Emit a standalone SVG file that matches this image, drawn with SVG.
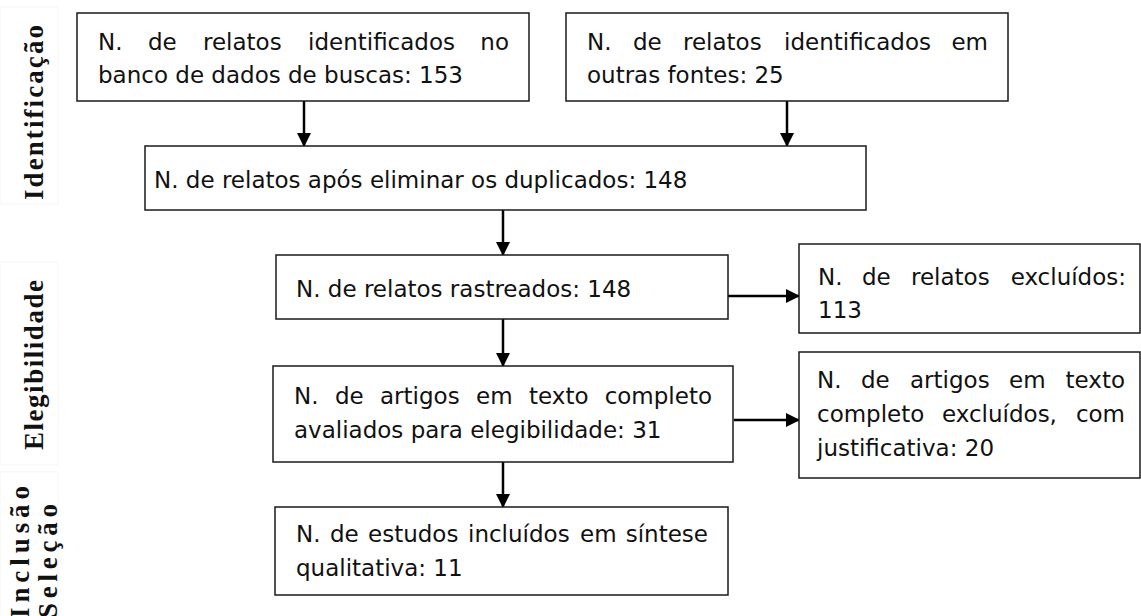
<svg xmlns="http://www.w3.org/2000/svg" width="1141" height="616" viewBox="0 0 1141 616">
<defs>
<marker id="ah" markerUnits="userSpaceOnUse" markerWidth="14" markerHeight="14" refX="13" refY="7" orient="auto">
<path d="M0,0 L14,7 L0,14 Z" fill="#000"/>
</marker>
<style>
.box{fill:#fff;stroke:#1a1a1a;stroke-width:1.5}
.t{font-family:"DejaVu Sans","Liberation Sans",sans-serif;font-size:23px;fill:#111}
.lab{font-family:"Liberation Serif","DejaVu Serif",serif;font-weight:bold;font-size:27px;fill:#111}
.band{fill:none;stroke:#f5f5f5;stroke-width:1}
.c{fill:none;stroke:#000;stroke-width:2.5;marker-end:url(#ah)}
</style>
</defs>
<rect width="1141" height="616" fill="#fff"/>
<g id="labels">
<rect class="band" x="0" y="7" width="58" height="197"/>
<rect class="band" x="0" y="262" width="58" height="203"/>
<rect class="band" x="0" y="472" width="58" height="150"/>
<text class="lab" transform="translate(43,200) rotate(-90)" textLength="175" lengthAdjust="spacing">Identificação</text>
<text class="lab" transform="translate(43,450) rotate(-90)" textLength="170" lengthAdjust="spacing">Elegibilidade</text>
<text class="lab" transform="translate(29,618) rotate(-90)" textLength="132" lengthAdjust="spacing">Inclusão</text>
<text class="lab" transform="translate(57,618) rotate(-90)" textLength="114" lengthAdjust="spacing">Seleção</text>
</g>
<g id="connectors">
<path class="c" d="M304,101 V146"/>
<path class="c" d="M787,101 V146"/>
<path class="c" d="M503,210 V255"/>
<path class="c" d="M728,296 H799"/>
<path class="c" d="M503,319 V366"/>
<path class="c" d="M734,420 H799"/>
<path class="c" d="M503,462 V507"/>
</g>
<g id="n1">
<rect class="box" x="77" y="13" width="452" height="88"/>
<text class="t" y="50"><tspan x="98">N.</tspan><tspan x="148">de</tspan><tspan x="203">relatos</tspan><tspan x="308">identificados</tspan><tspan x="509" text-anchor="end">no</tspan></text>
<text class="t" x="98" y="83">banco de dados de buscas: 153</text>
</g>
<g id="n2">
<rect class="box" x="566" y="13" width="442" height="88"/>
<text class="t" y="50"><tspan x="587">N.</tspan><tspan x="633">de</tspan><tspan x="683">relatos</tspan><tspan x="784">identificados</tspan><tspan x="988" text-anchor="end">em</tspan></text>
<text class="t" x="587" y="83">outras fontes: 25</text>
</g>
<g id="n3">
<rect class="box" x="145" y="146" width="721" height="64"/>
<text class="t" x="154" y="188">N. de relatos após eliminar os duplicados: 148</text>
</g>
<g id="n4">
<rect class="box" x="276" y="255" width="452" height="64"/>
<text class="t" x="296" y="297">N. de relatos rastreados: 148</text>
</g>
<g id="n5">
<rect class="box" x="799" y="244" width="341" height="89"/>
<text class="t" y="285"><tspan x="818">N.</tspan><tspan x="862">de</tspan><tspan x="911">relatos</tspan><tspan x="1126" text-anchor="end">excluídos:</tspan></text>
<text class="t" x="818" y="318">113</text>
</g>
<g id="n6">
<rect class="box" x="273" y="366" width="460" height="96"/>
<text class="t" y="404"><tspan x="294">N.</tspan><tspan x="335">de</tspan><tspan x="380">artigos</tspan><tspan x="476">em</tspan><tspan x="529">texto</tspan><tspan x="712" text-anchor="end">completo</tspan></text>
<text class="t" x="294" y="438">avaliados para elegibilidade: 31</text>
</g>
<g id="n7">
<rect class="box" x="799" y="352" width="341" height="126"/>
<text class="t" y="388"><tspan x="817">N.</tspan><tspan x="861">de</tspan><tspan x="910">artigos</tspan><tspan x="1009">em</tspan><tspan x="1125" text-anchor="end">texto</tspan></text>
<text class="t" y="422"><tspan x="817">completo</tspan><tspan x="942">excluídos,</tspan><tspan x="1125" text-anchor="end">com</tspan></text>
<text class="t" x="817" y="456">justificativa: 20</text>
</g>
<g id="n8">
<rect class="box" x="275" y="507" width="453" height="88"/>
<text class="t" y="542"><tspan x="296">N.</tspan><tspan x="330">de</tspan><tspan x="368">estudos</tspan><tspan x="468">incluídos</tspan><tspan x="580">em</tspan><tspan x="708" text-anchor="end">síntese</tspan></text>
<text class="t" x="296" y="576">qualitativa: 11</text>
</g>
</svg>
